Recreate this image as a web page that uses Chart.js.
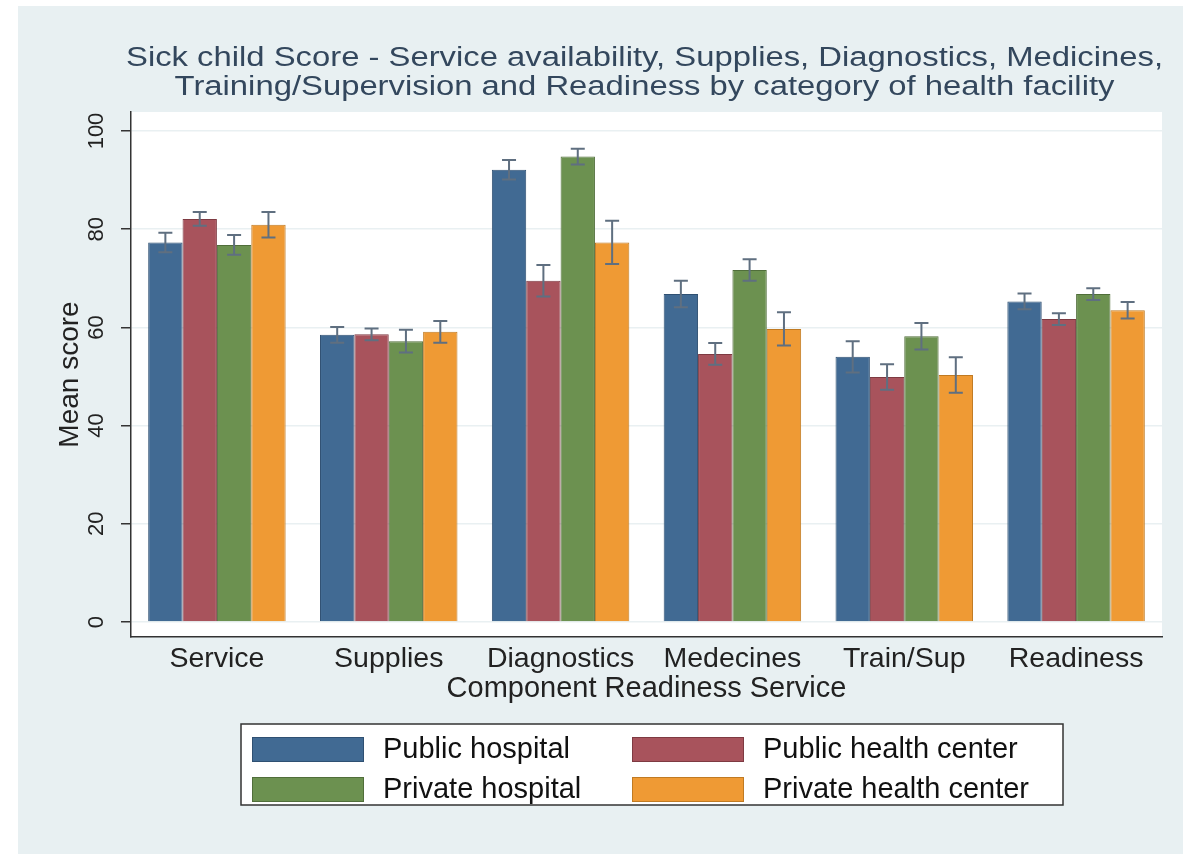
<!DOCTYPE html>
<html>
<head>
<meta charset="utf-8">
<script src="https://cdn.jsdelivr.net/npm/chart.js@4/dist/chart.umd.min.js"></script>
<style>
  html, body { margin: 0; padding: 0; background: #ffffff; }
  #wrap { width: 1183px; height: 854px; }
</style>
</head>
<body>
<div id="wrap"><canvas id="barChart" width="1183" height="854"></canvas></div>
<script>
// categories
var labels = ["Service", "Supplies", "Diagnostics", "Medecines", "Train/Sup", "Readiness"];

// mean scores per facility type
var publicHospital      = [77.3, 58.5, 92.1, 66.8, 54.0, 65.3];
var publicHealthCenter  = [82.1, 58.6, 69.5, 54.6, 49.9, 61.7];
var privateHospital     = [76.8, 57.2, 94.8, 71.7, 58.2, 66.8];
var privateHealthCenter = [80.9, 59.1, 77.3, 59.7, 50.3, 63.5];

// half width of the confidence interval
var publicHospitalCI      = [2.0, 1.6, 2.0, 2.7, 3.2, 1.6];
var publicHealthCenterCI  = [1.4, 1.2, 3.2, 2.2, 2.6, 1.2];
var privateHospitalCI     = [2.0, 2.3, 1.6, 2.2, 2.7, 1.2];
var privateHealthCenterCI = [2.6, 2.2, 4.4, 3.4, 3.6, 1.7];

var yTicks = [0, 20, 40, 60, 80, 100];

var titleLines = [
  "Sick child Score - Service availability, Supplies, Diagnostics, Medicines,",
  "Training/Supervision and Readiness by category of health facility"
];

var FONT = "'Liberation Sans', Arial, Helvetica, sans-serif";
var BG = '#e8f0f2';

// page background, plot region and the two line title (set a bit wide)
var backdrop = {
  id: 'backdrop',
  beforeDraw: function (chart) {
    var ctx = chart.ctx, a = chart.chartArea;
    ctx.save();
    ctx.fillStyle = '#ffffff';
    ctx.fillRect(0, 0, chart.width, chart.height);
    ctx.fillStyle = BG;
    ctx.fillRect(18, 6, chart.width - 18, chart.height - 6);
    ctx.fillStyle = '#ffffff';
    ctx.fillRect(a.left, a.top, a.right - a.left, a.bottom - a.top);

    ctx.fillStyle = '#33475d';
    ctx.font = '27px ' + FONT;
    ctx.textAlign = 'center';
    ctx.textBaseline = 'alphabetic';
    var sx = 1037 / ctx.measureText(titleLines[0]).width;
    var cx = 644.5;
    titleLines.forEach(function (t, i) {
      ctx.save();
      ctx.translate(cx, 66 + i * 29);
      ctx.scale(sx, 1);
      ctx.fillText(t, 0, 0);
      ctx.restore();
    });
    ctx.restore();
  }
};

// confidence interval whiskers on top of each bar
var whiskers = {
  id: 'whiskers',
  afterDatasetsDraw: function (chart) {
    var ctx = chart.ctx, y = chart.scales.y;
    ctx.save();
    ctx.strokeStyle = '#5f6f80';
    ctx.lineWidth = 2;
    chart.data.datasets.forEach(function (ds, di) {
      var meta = chart.getDatasetMeta(di);
      meta.data.forEach(function (bar, i) {
        var v = ds.data[i], e = ds.ci[i];
        var hi = y.getPixelForValue(v + e), lo = y.getPixelForValue(v - e);
        var x = bar.x, cap = 7;
        ctx.beginPath();
        ctx.moveTo(x, hi); ctx.lineTo(x, lo);
        ctx.moveTo(x - cap, hi); ctx.lineTo(x + cap, hi);
        ctx.moveTo(x - cap, lo); ctx.lineTo(x + cap, lo);
        ctx.stroke();
      });
    });
    ctx.restore();
  }
};

// boxed two column legend under the axis title
var boxLegend = {
  id: 'boxLegend',
  afterDraw: function (chart) {
    var ctx = chart.ctx;
    var bx = 241, by = 724, bw = 822, bh = 81;
    ctx.save();
    ctx.fillStyle = '#ffffff';
    ctx.fillRect(bx, by, bw, bh);
    ctx.strokeStyle = '#333333';
    ctx.lineWidth = 1.5;
    ctx.strokeRect(bx, by, bw, bh);
    ctx.font = '29px ' + FONT;
    ctx.textAlign = 'left';
    ctx.textBaseline = 'middle';
    chart.data.datasets.forEach(function (ds, i) {
      var col = i % 2, row = Math.floor(i / 2);
      var sx = bx + 11 + col * 380, sy = by + 13 + row * 40;
      ctx.fillStyle = ds.backgroundColor;
      ctx.fillRect(sx, sy, 112, 25);
      ctx.strokeStyle = ds.borderColor;
      ctx.lineWidth = 1;
      ctx.strokeRect(sx + 0.5, sy + 0.5, 111, 24);
      ctx.fillStyle = '#111111';
      ctx.fillText(ds.label, sx + 131, sy + 13);
    });
    ctx.restore();
  }
};

var ctxB = document.getElementById("barChart").getContext('2d');
var myBarChart = new Chart(ctxB, {
  type: 'bar',
  data: {
    labels: labels,
    datasets: [{
      label: "Public hospital",
      data: publicHospital,
      ci: publicHospitalCI,
      backgroundColor: '#416a93',
      borderColor: '#2f5072'
    }, {
      label: "Public health center",
      data: publicHealthCenter,
      ci: publicHealthCenterCI,
      backgroundColor: '#a8535c',
      borderColor: '#7e3a42'
    }, {
      label: "Private hospital",
      data: privateHospital,
      ci: privateHospitalCI,
      backgroundColor: '#6c9150',
      borderColor: '#506e3a'
    }, {
      label: "Private health center",
      data: privateHealthCenter,
      ci: privateHealthCenterCI,
      backgroundColor: '#ef9a34',
      borderColor: '#c07a22'
    }]
  },
  options: {
    responsive: false,
    animation: false,
    events: [],
    layout: { padding: { top: 112, left: 18, right: 21, bottom: 147 } },
    datasets: {
      bar: { categoryPercentage: 0.8, barPercentage: 1.0, borderWidth: 1 }
    },
    plugins: {
      legend: { display: false },
      tooltip: { enabled: false },
      title: { display: false }
    },
    scales: {
      x: {
        grid: { display: false },
        border: { display: true, color: '#333333', width: 1.5 },
        ticks: { color: '#222222', font: { family: FONT, size: 28.5 }, padding: -3, maxRotation: 0 },
        title: {
          display: true,
          text: "Component Readiness Service",
          color: '#222222',
          font: { family: FONT, size: 29 },
          padding: { top: 0, bottom: 1 }
        },
        afterFit: function (scale) { scale.height = 70; }
      },
      y: {
        min: -3.05,
        max: 103.87,
        afterBuildTicks: function (scale) {
          scale.ticks = yTicks.map(function (v) { return { value: v }; });
        },
        grid: { color: '#e9f0f2', lineWidth: 1.5, tickColor: '#333333', tickLength: 10 },
        border: { display: true, color: '#333333', width: 1.5 },
        ticks: {
          color: '#222222',
          font: { family: FONT, size: 22 },
          minRotation: 90,
          maxRotation: 90,
          crossAlign: 'center',
          padding: 6
        },
        title: {
          display: true,
          text: "Mean score",
          color: '#222222',
          font: { family: FONT, size: 28 },
          padding: { top: 35, bottom: 0 }
        },
        afterFit: function (scale) { scale.width = 113; }
      }
    }
  },
  plugins: [backdrop, whiskers, boxLegend]
});
</script>
</body>
</html>
